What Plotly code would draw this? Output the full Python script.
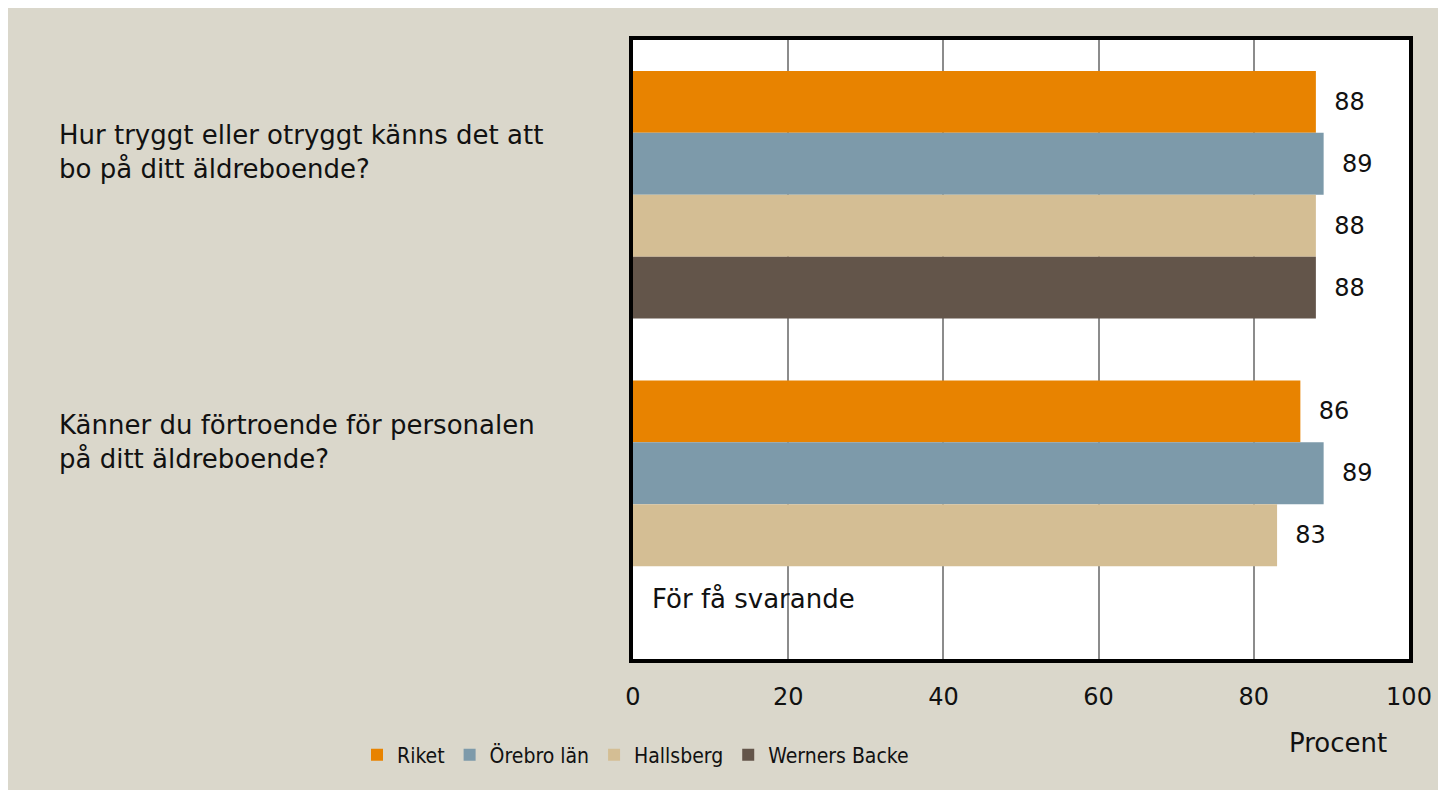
import plotly.graph_objects as go

categories = ["Hur tryggt eller otryggt känns det att<br>bo på ditt äldreboende?",
              "Känner du förtroende för personalen<br>på ditt äldreboende?"]
cat_keys = ["q1", "q2"]
series_names = ["Riket", "Örebro län", "Hallsberg", "Werners Backe"]
riket = [88, 86]
orebro = [89, 89]
hallsberg = [88, 83]
werners = [88, None]
colors = ["#E88300", "#7D9AAA", "#D4BE94", "#63554A"]
x_ticks = [0, 20, 40, 60, 80, 100]
no_data_text = "För få svarande"
axis_title = "Procent"

OFF = 8  # page body margin
W, H = 1446, 790
L, R, T, B = 625, 45, 32, 139
PW = W - L - R
PH = H - T - B


def px(xpage):
    return (xpage - OFF - L) / PW


def py(ypage):
    return (H - B - (ypage - OFF)) / PH


main_font = "DejaVu Sans"
fig = go.Figure()
for name, vals, col in zip(series_names, [riket, orebro, hallsberg, werners], colors):
    fig.add_trace(go.Bar(
        y=cat_keys, x=vals, name=name, orientation="h",
        marker=dict(color=col, line=dict(width=0)),
        text=["\u00a0\u00a0" + str(v) if v is not None else "" for v in vals],
        textposition="outside", cliponaxis=False,
        textfont=dict(family=main_font, size=24, color="#111111"),
    ))

annotations = []
label_y = [152, 442]
for txt, yy in zip(categories, label_y):
    annotations.append(dict(
        x=px(57), y=py(yy), xref="paper", yref="paper", text=txt, showarrow=False,
        xanchor="left", yanchor="middle", align="left",
        font=dict(family=main_font, size=26, color="#111111")))
annotations.append(dict(
    x=px(650), y=py(599), xref="paper", yref="paper", text=no_data_text, showarrow=False,
    xanchor="left", yanchor="middle", font=dict(family=main_font, size=26, color="#111111")))
annotations.append(dict(
    x=px(1338), y=py(743), xref="paper", yref="paper", text=axis_title, showarrow=False,
    xanchor="center", yanchor="middle", font=dict(family=main_font, size=26, color="#111111")))

fig.update_layout(
    width=W, height=H,
    margin=dict(l=L, r=R, t=T, b=B, pad=0),
    paper_bgcolor="#DAD7CB", plot_bgcolor="white",
    barmode="group", bargap=0.2, bargroupgap=0,
    showlegend=True,
    legend=dict(orientation="h", x=px(357), y=py(755), xanchor="left", yanchor="middle",
                bgcolor="rgba(0,0,0,0)",
                font=dict(family="DejaVu Sans Condensed, DejaVu Sans, sans-serif",
                          size=21, color="#111111"),
                traceorder="normal"),
    annotations=annotations,
    xaxis=dict(range=[0, 100], tickvals=x_ticks, ticktext=[str(t) for t in x_ticks],
               showgrid=True, gridcolor="#8C8C8C", gridwidth=1.5,
               showline=True, linecolor="black", linewidth=4, mirror=True,
               ticks="outside", ticklen=13, tickcolor="rgba(0,0,0,0)",
               tickfont=dict(family=main_font, size=24, color="#111111"),
               zeroline=False, fixedrange=True),
    yaxis=dict(autorange="reversed", showticklabels=False, showgrid=False,
               showline=True, linecolor="black", linewidth=4, mirror=True,
               ticks="", zeroline=False),
)

fig.write_html("out.html")
